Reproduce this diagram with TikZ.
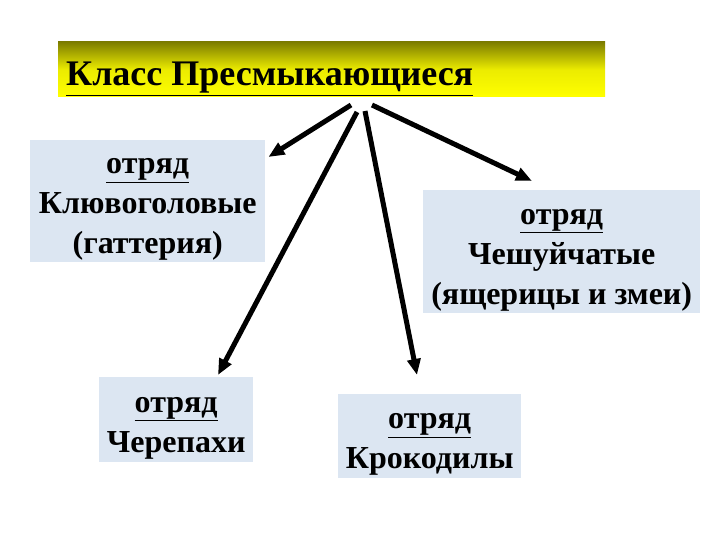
\documentclass[tikz,border=0pt]{standalone}
\usepackage{fontspec}
\newfontfamily\tnr{Liberation Serif}
\usetikzlibrary{arrows.meta,calc}
\definecolor{boxfill}{RGB}{220,230,242}
\definecolor{olivetop}{RGB}{125,125,0}
\newcommand\toppad{\rule{0pt}{32pt}}
\tikzset{
  obox/.style={fill=boxfill, draw=none, anchor=north west, align=center,
    font=\tnr\bfseries\fontsize{32}{40}\selectfont, inner sep=0pt},
  arr/.style={line width=5pt, -{Triangle[length=16pt,width=13pt]}},
}
\begin{document}
\begin{tikzpicture}[x=1pt,y=-1pt]
\useasboundingbox (0,0) rectangle (720,540);
\fill[white] (0,0) rectangle (720,540);
% title
\shade[top color=olivetop, bottom color=yellow, middle color=yellow!85!olivetop] (58,42) rectangle (605,97);
\node (title) [anchor=base west, font=\tnr\bfseries\fontsize{36}{40}\selectfont, inner sep=0pt] at (66,86) {\underline{Класс Пресмыкающиеся}};
% boxes
\node (b1) [obox, minimum width=235pt, minimum height=122pt] at (30,140) {\toppad\underline{отряд}\\Клювоголовые\\(гаттерия)};
\node (b2) [obox, minimum width=277pt, minimum height=123pt] at (423,190) {\toppad\underline{отряд}\\Чешуйчатые\\(ящерицы и змеи)};
\node (b3) [obox, minimum width=154pt, minimum height=85pt] at (99,377) {\toppad\underline{отряд}\\Черепахи};
\node (b4) [obox, minimum width=183pt, minimum height=84pt] at (338,394) {\toppad\underline{отряд}\\Крокодилы};
% start points
\coordinate (s1) at (351,105);
\coordinate (s2) at (357,112);
\coordinate (s3) at (365,111);
\coordinate (s4) at (372,105);
\draw[arr] (s1) -- ($(b1.north east)+(3,17)$);
\draw[arr] (s2) -- ($(b3.north west)+(119,-2)$);
\draw[arr] (s3) -- ($(b4.north west)+(79,-19)$);
\draw[arr] (s4) -- ($(b2.north west)+(109,-9)$);
\end{tikzpicture}
\end{document}
